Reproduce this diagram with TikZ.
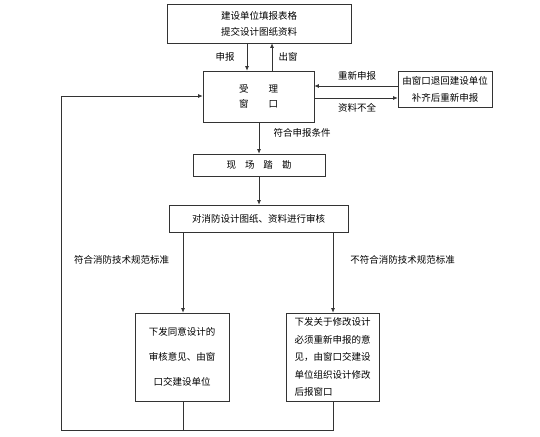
\documentclass[tikz,border=0pt]{standalone}
\usepackage{fontspec}
\setmainfont{Noto Sans CJK SC}
\usetikzlibrary{arrows.meta}
\begin{document}
\begin{tikzpicture}[x=1pt,y=-1pt,
  box/.style={draw=black!80,line width=0.7pt,inner sep=0pt,minimum width=#1},
  ln/.style={draw=black!80,line width=0.7pt},
  arr/.style={ln,-{Latex[length=4.5pt,width=4pt]}},
  lbl/.style={inner sep=0pt,font=\fontsize{9.5}{12}\selectfont},
  every node/.append style={font=\fontsize{9.5}{12}\selectfont}]
\useasboundingbox (0,0) rectangle (540,436);
\node[box=184pt,minimum height=39pt,align=center,font=\fontsize{9.5}{16}\selectfont] (top) at (259,23.5) {建设单位填报表格\\提交设计图纸资料};
\node[box=111pt,minimum height=51pt,align=center,font=\fontsize{9.5}{15}\selectfont] (main) at (258.5,96.5) {受\hspace{20pt}理\\窗\hspace{20pt}口};
\node[box=94pt,minimum height=36pt,align=center,font=\fontsize{9.5}{17}\selectfont] (right) at (445,89) {由窗口退回建设单位\\补齐后重新申报};
\node[box=132pt,minimum height=22pt] (xc) at (259,165) {现\hspace{9pt}场\hspace{9pt}踏\hspace{9pt}勘};
\node[box=179pt,minimum height=27pt] (sh) at (258.5,218.5) {对消防设计图纸、资料进行审核};
\node[box=94pt,minimum height=88pt,align=center,font=\fontsize{9.5}{25}\selectfont] (lbox) at (182,357) {下发同意设计的\\审核意见、由窗\\口交建设单位};
\node[box=93pt,minimum height=88pt,align=left,font=\fontsize{9.5}{17.5}\selectfont] (rbox) at (332.5,357) {下发关于修改设计\\必须重新申报的意\\见，由窗口交建设\\单位组织设计修改\\后报窗口};
% coordinates
\coordinate (a1) at (247,0);
\coordinate (a2) at (272,0);
\coordinate (r1) at (0,86);
\coordinate (r2) at (0,98);
\coordinate (c1) at (259,0);
\coordinate (lx) at (183,0);
\coordinate (rx) at (333,0);
\coordinate (bl) at (61,430);
\coordinate (br) at (333,430);
\coordinate (bm) at (183,430);
\coordinate (fb) at (61,96);
% connectors
\draw[arr] (top.south -| a1) -- (main.north -| a1);
\draw[arr] (main.north -| a2) -- (top.south -| a2);
\draw[arr] (right.west |- r1) -- (main.east |- r1);
\draw[arr] (main.east |- r2) -- (right.west |- r2);
\draw[arr] (main.south -| c1) -- (xc.north -| c1);
\draw[arr] (xc.south -| c1) -- (sh.north -| c1);
\draw[arr] (sh.south -| lx) -- (lbox.north -| lx);
\draw[arr] (sh.south -| rx) -- (rbox.north -| rx);
\draw[ln] (lbox.south -| lx) -- (bm);
\draw[arr] (rbox.south -| rx) -- (br) -- (bl) -- (fb) -- (main.west |- fb);
% labels
\node[lbl] (t1) at (225,57) {申报};
\node[lbl] (t2) at (288,57) {出窗};
\node[lbl] (t3) at (357,76) {重新申报};
\node[lbl] (t4) at (357,108) {资料不全};
\node[lbl] (t5) at (302,133) {符合申报条件};
\node[lbl] (t6) at (121.5,260) {符合消防技术规范标准};
\node[lbl] (t7) at (402.5,260) {不符合消防技术规范标准};
\end{tikzpicture}
\end{document}
